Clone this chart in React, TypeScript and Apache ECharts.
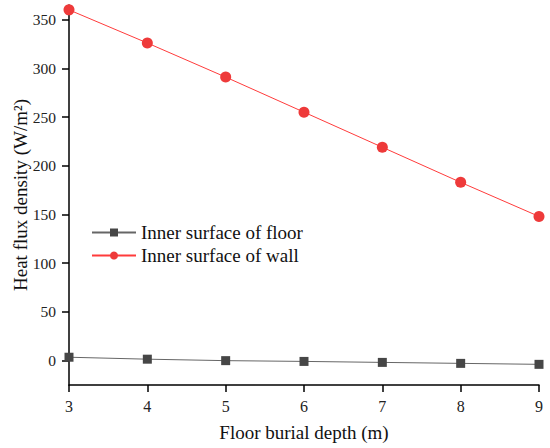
import React, { useEffect, useRef } from "react";
import * as echarts from "echarts";

const depths = [3, 4, 5, 6, 7, 8, 9];
const floorFlux = [3.5, 1.5, 0, -0.8, -1.8, -2.8, -3.8];
const wallFlux = [360, 326, 291, 255, 219, 183, 148];
const yTicks = [0, 50, 100, 150, 200, 250, 300, 350];
const yTitle = "Heat flux density (W/m²)";

const FONT = "'Liberation Serif', 'Times New Roman', serif";

export default function App() {
  const ref = useRef<HTMLDivElement>(null);
  useEffect(() => {
    document.body.style.margin = "0";
    const chart = echarts.init(ref.current!, null, { renderer: "svg" });
    chart.setOption({
      animation: false,
      backgroundColor: "#fff",
      grid: { left: 69, right: 11, top: 5, bottom: 63, containLabel: false, outerBoundsMode: "none" },
      graphic: [
        {
          type: "text",
          x: 20,
          y: 195,
          rotation: Math.PI / 2,
          style: {
            text: yTitle,
            fontFamily: FONT,
            fontSize: 19,
            fill: "#111",
            align: "center",
            verticalAlign: "middle",
          },
        },
      ],
      legend: {
        orient: "vertical",
        left: 86,
        top: 218,
        itemWidth: 44,
        itemHeight: 10,
        itemGap: 4,
        textStyle: { fontFamily: FONT, fontSize: 19, color: "#111" },
        data: ["Inner surface of floor", "Inner surface of wall"],
      },
      xAxis: {
        type: "value",
        min: 3,
        max: 9,
        interval: 1,
        name: "Floor burial depth (m)",
        nameLocation: "middle",
        nameGap: 38,
        nameTextStyle: { fontFamily: FONT, fontSize: 19, color: "#111" },
        axisLine: { show: true, onZero: false, lineStyle: { color: "#000", width: 1.5 } },
        axisTick: { show: true, length: 7, lineStyle: { color: "#000", width: 1.5 } },
        axisLabel: { fontFamily: FONT, fontSize: 16, color: "#222", margin: 13 },
        splitLine: { show: false },
      },
      yAxis: {
        type: "value",
        min: -25,
        max: 365,
        axisLine: { show: true, onZero: false, lineStyle: { color: "#000", width: 1.5 } },
        axisTick: {
          show: true,
          length: 7,
          lineStyle: { color: "#000", width: 1.5 },
          customValues: yTicks,
        },
        axisLabel: {
          fontFamily: FONT,
          fontSize: 15.5,
          color: "#222",
          margin: 13,
          customValues: yTicks,
        },
        splitLine: { show: false },
      },
      series: [
        {
          name: "Inner surface of floor",
          type: "line",
          data: depths.map((d, i) => [d, floorFlux[i]]),
          symbol: "rect",
          symbolSize: 9,
          lineStyle: { color: "#666", width: 1 },
          itemStyle: { color: "#464646" },
        },
        {
          name: "Inner surface of wall",
          type: "line",
          data: depths.map((d, i) => [d, wallFlux[i]]),
          symbol: "circle",
          symbolSize: 11,
          lineStyle: { color: "#FF3B3B", width: 1 },
          itemStyle: { color: "#EE3A3A" },
        },
      ],
    });
    return () => chart.dispose();
  }, []);
  return <div ref={ref} style={{ width: 550, height: 448 }} />;
}
